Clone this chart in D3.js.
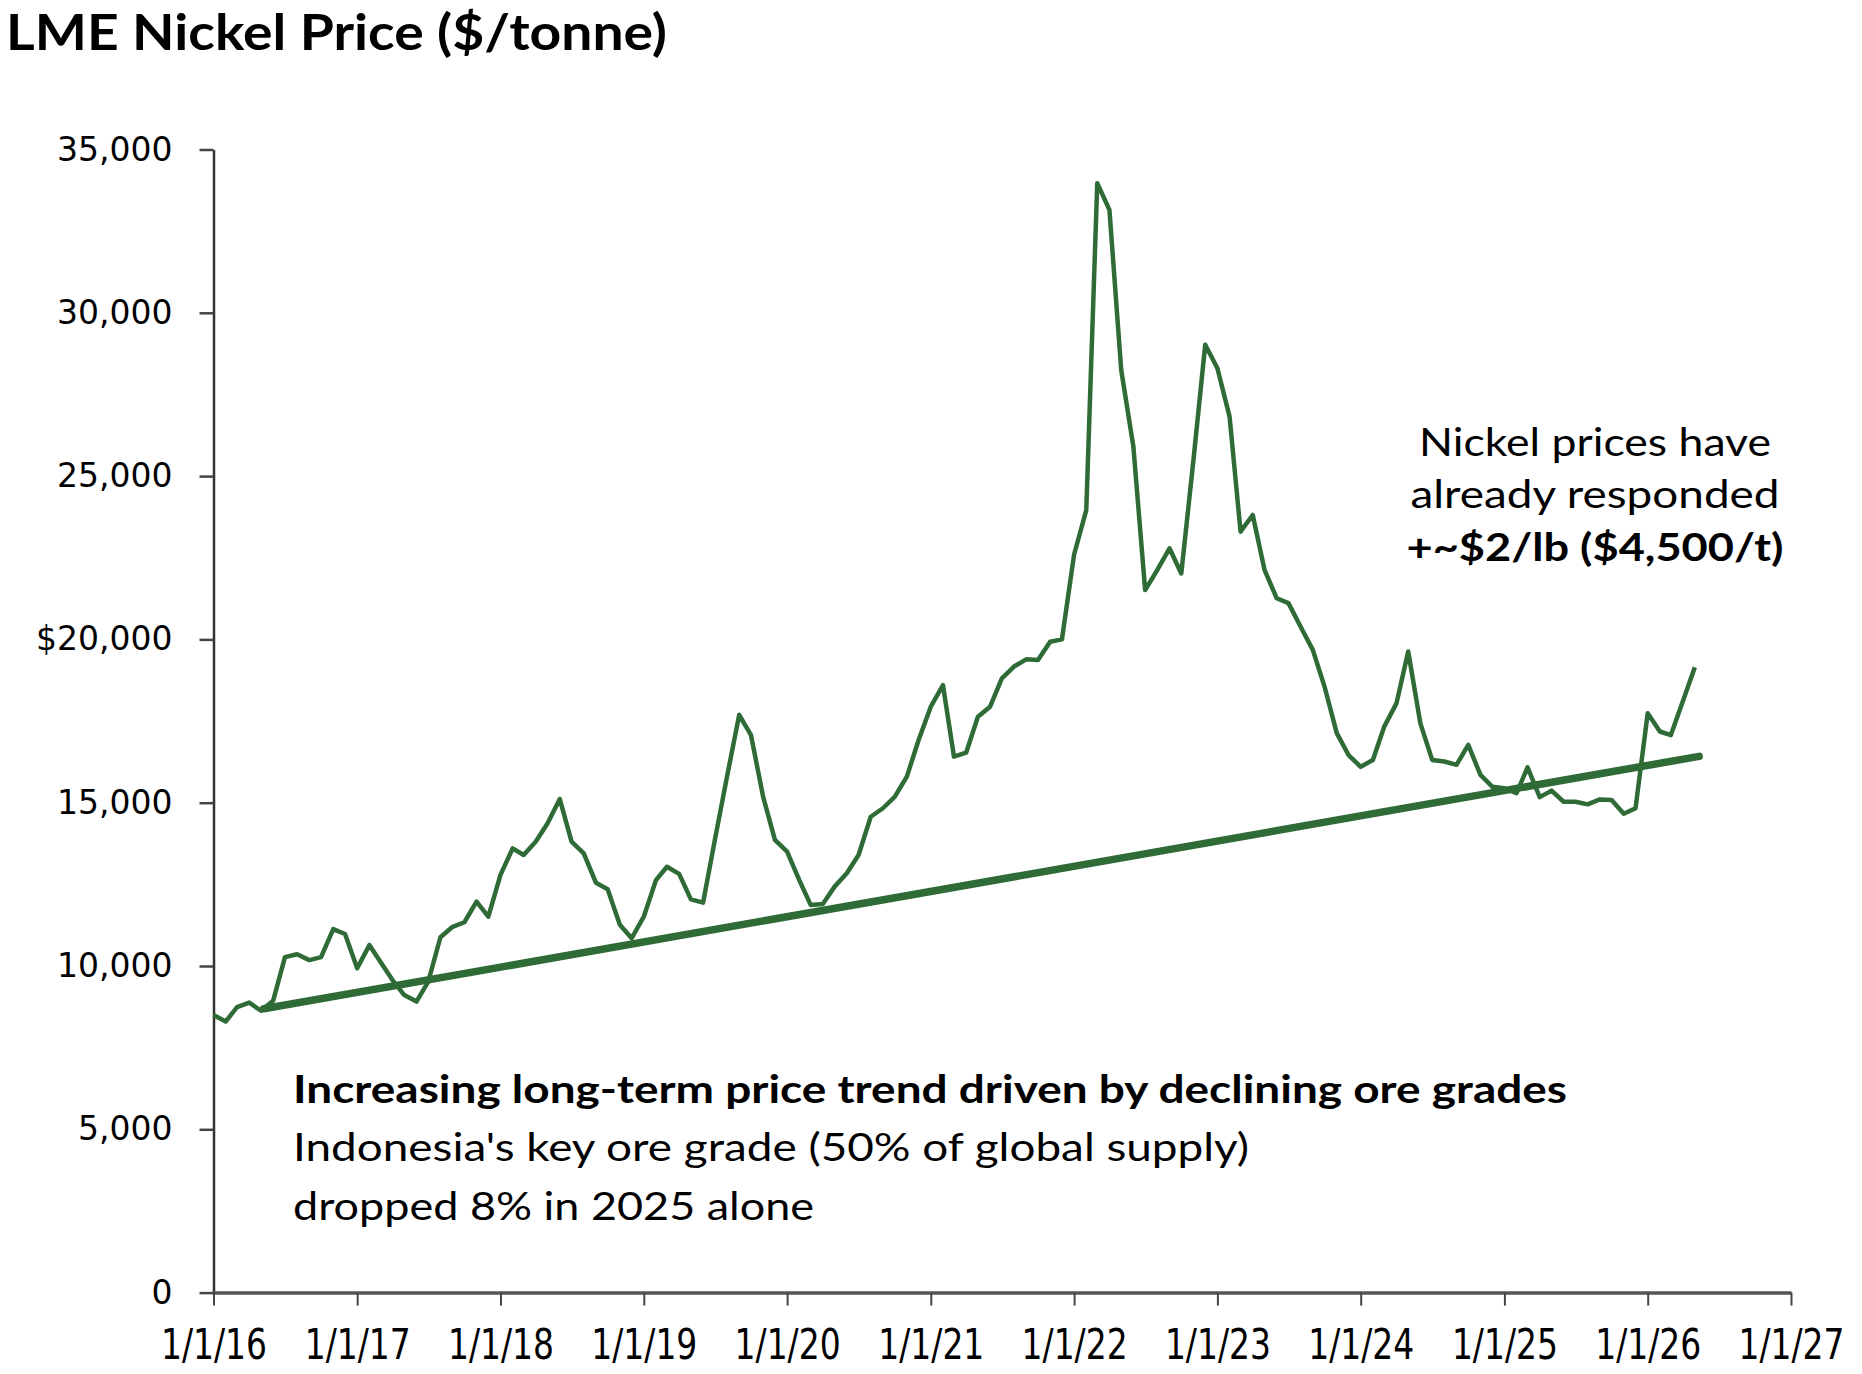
<!DOCTYPE html>
<html>
<head>
<meta charset="utf-8">
<script src="https://cdn.jsdelivr.net/npm/d3@7"></script>
<style>
  html, body { margin: 0; padding: 0; background: #fff; }
  svg { display: block; }
</style>
</head>
<body>
<script>
// ---------- DATA (LME nickel monthly average, $/tonne) ----------
const nickel2016 = [8500, 8300, 8740, 8880, 8630, 8940, 10270, 10360, 10180, 10270, 11130, 10980];
const nickel2017 = [9930, 10640, 10130, 9570, 9110, 8910, 9520, 10880, 11200, 11340, 11970, 11510];
const nickel2018 = [12790, 13600, 13400, 13810, 14370, 15110, 13810, 13450, 12550, 12350, 11260, 10850];
const nickel2019 = [11510, 12630, 13040, 12820, 12040, 11940, 13860, 15800, 17690, 17070, 15180, 13860];
const nickel2020 = [13500, 12630, 11870, 11900, 12430, 12840, 13400, 14570, 14830, 15180, 15800, 16920];
const nickel2021 = [17940, 18600, 16410, 16530, 17630, 17940, 18810, 19170, 19390, 19370, 19930, 20000];
const nickel2022 = [22600, 23960, 33970, 33150, 28250, 25900, 21510, 22130, 22790, 22020, 25490, 29020];
const nickel2023 = [28300, 26820, 23300, 23810, 22130, 21260, 21110, 20390, 19680, 18550, 17130, 16460];
const nickel2024 = [16100, 16310, 17330, 18040, 19630, 17430, 16310, 16260, 16160, 16770, 15850, 15490];
const nickel2025 = [15440, 15290, 16080, 15170, 15370, 15030, 15030, 14950, 15100, 15080, 14660, 14830];
const nickel2026 = [17740, 17180, 17070, 18120, 19150];
const seriesYears = [2016, 2017, 2018, 2019, 2020, 2021, 2022, 2023, 2024, 2025, 2026];
const seriesByYear = [nickel2016, nickel2017, nickel2018, nickel2019, nickel2020, nickel2021,
                      nickel2022, nickel2023, nickel2024, nickel2025, nickel2026];

// Long-term trend line (endpoints)
const trendDates = ["2016-05-08", "2026-05-12"];
const trendValues = [8690, 16420];

// Axis ticks
const yTickValues = [0, 5000, 10000, 15000, 20000, 25000, 30000, 35000];
const yTickLabels = ["0", "5,000", "10,000", "15,000", "$20,000", "25,000", "30,000", "35,000"];
const xTickYears = [2016, 2017, 2018, 2019, 2020, 2021, 2022, 2023, 2024, 2025, 2026, 2027];
const xTickLabels = ["1/1/16", "1/1/17", "1/1/18", "1/1/19", "1/1/20", "1/1/21",
                     "1/1/22", "1/1/23", "1/1/24", "1/1/25", "1/1/26", "1/1/27"];

// Texts
const titleText = "LME Nickel Price ($/tonne)";
const noteRight = ["Nickel prices have", "already responded", "+~$2/lb ($4,500/t)"];
const noteBottom = ["Increasing long-term price trend driven by declining ore grades",
                    "Indonesia's key ore grade (50% of global supply)",
                    "dropped 8% in 2025 alone"];

// ---------- BUILD ----------
const W = 1862, H = 1374;
const GREEN = "#2e6b36";
const points = [];
seriesYears.forEach((yr, k) => {
  seriesByYear[k].forEach((v, m) => points.push({ date: new Date(yr, m, 1), value: v }));
});
const trend = trendDates.map((d, i) => ({ date: new Date(d + "T00:00:00"), value: trendValues[i] }));

const svg = d3.select("body").append("svg").attr("width", W).attr("height", H);
svg.append("rect").attr("width", W).attr("height", H).attr("fill", "#fff");

const x = d3.scaleTime()
  .domain([new Date(2016, 0, 1), new Date(2027, 0, 1)])
  .range([213.5, 1791]);
const y = d3.scaleLinear().domain([0, 35000]).range([1292.6, 149.5]);

// Y axis
const yAxis = svg.append("g")
  .attr("transform", "translate(213.5,0)")
  .call(d3.axisLeft(y).tickValues(yTickValues)
    .tickFormat((d, i) => yTickLabels[i]).tickSize(14).tickSizeOuter(0).tickPadding(27));
yAxis.select(".domain").attr("stroke", "#333").attr("stroke-width", 2.5);
yAxis.selectAll(".tick line").attr("stroke", "#444").attr("stroke-width", 2.5);
yAxis.selectAll(".tick text")
  .attr("font-family", "'DejaVu Sans', Verdana, sans-serif")
  .attr("font-size", 33).attr("fill", "#000");

// X axis
const xAxis = svg.append("g")
  .attr("transform", "translate(0,1292.6)")
  .call(d3.axisBottom(x).tickValues(xTickYears.map(yv => new Date(yv, 0, 1)))
    .tickFormat((d, i) => xTickLabels[i]).tickSize(13).tickSizeOuter(0).tickPadding(23));
xAxis.select(".domain").attr("stroke", "#555").attr("stroke-width", 3.5);
xAxis.selectAll(".tick line").attr("stroke", "#444").attr("stroke-width", 2);
xAxis.selectAll(".tick text")
  .attr("font-family", "'Liberation Sans Narrow', 'DejaVu Sans Condensed', sans-serif")
  .attr("font-size", 43).attr("fill", "#000")
  .attr("textLength", 106).attr("lengthAdjust", "spacingAndGlyphs");

// Price line
const line = d3.line().x(d => x(d.date)).y(d => y(d.value)).curve(d3.curveLinear);
svg.append("path").datum(points)
  .attr("d", line).attr("fill", "none")
  .attr("stroke", GREEN).attr("stroke-width", 4.5)
  .attr("stroke-linejoin", "round");

// Trend line
svg.append("path").datum(trend)
  .attr("d", line).attr("fill", "none")
  .attr("stroke", GREEN).attr("stroke-width", 7.5)
  .attr("stroke-linecap", "round");

// Title
svg.append("text").attr("x", 6).attr("y", 50)
  .attr("font-family", "Lato, 'Open Sans', sans-serif").attr("font-weight", 700)
  .attr("font-size", 50).attr("fill", "#000")
  .attr("textLength", 661).attr("lengthAdjust", "spacingAndGlyphs")
  .text(titleText);

// Right annotation
const rightLens = [352, 369, 377];
const rightBase = [456, 508, 560.5];
noteRight.forEach((t, i) => {
  svg.append("text").attr("x", 1595).attr("y", rightBase[i])
    .attr("text-anchor", "middle")
    .attr("font-family", "Lato, 'Open Sans', sans-serif")
    .attr("font-weight", i === 2 ? 700 : 400)
    .attr("font-size", 39).attr("fill", "#000")
    .attr("textLength", rightLens[i]).attr("lengthAdjust", "spacingAndGlyphs")
    .text(t);
});

// Bottom annotation
const bottomLens = [1274, 956, 521];
const bottomBase = [1103, 1161, 1219.5];
noteBottom.forEach((t, i) => {
  svg.append("text").attr("x", 293).attr("y", bottomBase[i])
    .attr("font-family", "Lato, 'Open Sans', sans-serif")
    .attr("font-weight", i === 0 ? 700 : 400)
    .attr("font-size", 39).attr("fill", "#000")
    .attr("textLength", bottomLens[i]).attr("lengthAdjust", "spacingAndGlyphs")
    .text(t);
});
</script>
</body>
</html>
